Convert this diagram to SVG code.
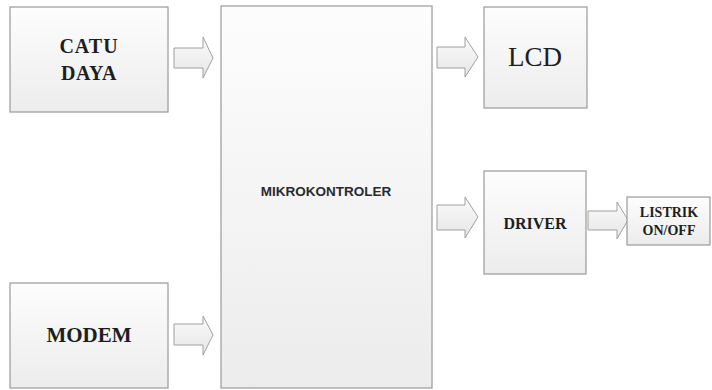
<svg xmlns="http://www.w3.org/2000/svg" width="712" height="390" viewBox="0 0 712 390">
  <defs>
    <linearGradient id="boxFill" x1="0" y1="0" x2="0" y2="1">
      <stop offset="0" stop-color="#fdfdfd"/>
      <stop offset="1" stop-color="#ececec"/>
    </linearGradient>
    <linearGradient id="arrowFill" x1="0" y1="0" x2="0" y2="1">
      <stop offset="0" stop-color="#fafafa"/>
      <stop offset="1" stop-color="#e6e6e6"/>
    </linearGradient>
  </defs>
  <style>
    .box { fill: url(#boxFill); stroke: #9a9a9a; stroke-width: 1.2; }
    .shadow { fill: none; stroke: #c8c8c8; stroke-width: 1.5; }
    .arrow { fill: url(#arrowFill); stroke: #a0a0a0; stroke-width: 1; stroke-linejoin: miter; }
    .serif { font-family: "Liberation Serif", "Times New Roman", serif; fill: #1e1e1e; text-anchor: middle; }
    .bold { font-weight: bold; }
    .sans { font-family: "Liberation Sans", Arial, sans-serif; font-weight: bold; fill: #2a2a2a; text-anchor: middle; }
  </style>

  <!-- block arrows -->
  <g id="connectors">
    <polygon class="arrow" points="174,48 203,48 203,37 213,58 203,78 203,68 174,68"/>
    <polygon class="arrow" points="174,324 203,324 203,316 213,335 203,355 203,345 174,345"/>
    <polygon class="arrow" points="437,47 465,47 465,37 478,57 465,77 465,68 437,68"/>
    <polygon class="arrow" points="437,205 465,205 465,197 478,217 465,238 465,230 437,230"/>
    <polygon class="arrow" points="588,211 617,211 617,202 628,220 617,239 617,230 588,230"/>
  </g>

  <g id="catu-daya">
    <rect class="box" x="10" y="7" width="158" height="105"/>
    <text class="serif bold" x="89" y="53" font-size="20" letter-spacing="1">CATU</text>
    <text class="serif bold" x="89" y="80" font-size="20" letter-spacing="0.5">DAYA</text>
  </g>

  <g id="modem">
    <rect class="box" x="10" y="283" width="158" height="105"/>
    <text class="serif bold" x="89" y="342" font-size="21">MODEM</text>
  </g>

  <g id="mikrokontroler">
    <rect class="box" x="221" y="6" width="211" height="382"/>
    <text class="sans" x="326" y="196" font-size="13.5">MIKROKONTROLER</text>
  </g>

  <g id="lcd">
    <rect class="box" x="484" y="7" width="103" height="101"/>
    <text class="serif" x="535" y="66" font-size="27">LCD</text>
  </g>

  <g id="driver">
    <rect class="box" x="484" y="171" width="102" height="103"/>
    <text class="serif bold" x="535" y="229" font-size="16">DRIVER</text>
  </g>

  <g id="listrik">
    <rect class="box" x="627" y="197" width="83" height="48"/>
    <text class="serif bold" x="669" y="217" font-size="14">LISTRIK</text>
    <text class="serif bold" x="669" y="235" font-size="14">ON/OFF</text>
  </g>
</svg>
